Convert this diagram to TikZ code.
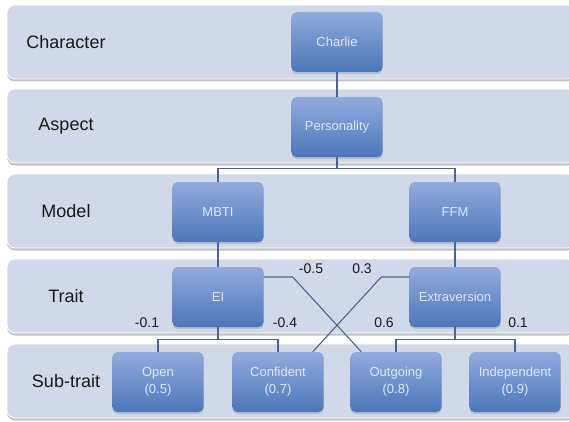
\documentclass[tikz,border=0pt]{standalone}
\usepackage{fontspec}
\setmainfont{Liberation Sans}
\usetikzlibrary{shadows}
\definecolor{bandfill}{RGB}{209,217,232}
\definecolor{bandshadow}{RGB}{150,152,158}
\definecolor{boxtop}{RGB}{146,171,221}
\definecolor{boxbot}{RGB}{76,118,186}
\definecolor{boxtext}{RGB}{222,230,245}
\definecolor{conncol}{RGB}{72,100,145}
\definecolor{labcol}{RGB}{25,25,25}
\tikzset{
  band/.style={rounded corners=8pt, minimum width=568pt, minimum height=74pt, fill=bandfill,
    draw=white, line width=0.8pt, inner sep=0pt,
    drop shadow={shadow xshift=0pt, shadow yshift=-2.5pt, opacity=0.6, fill=bandshadow}},
  rowlab/.style={font=\fontsize{18}{20}\selectfont, text=labcol},
  box/.style={rounded corners=5pt, minimum width=91pt, minimum height=60pt, inner sep=2pt,
    top color=boxtop, bottom color=boxbot, text=boxtext, align=center,
    font=\fontsize{13}{17}\selectfont,
    drop shadow={shadow xshift=0pt, shadow yshift=-2pt, opacity=0.3}},
  conn/.style={draw=conncol, line width=1.1pt},
  wlab/.style={font=\fontsize{14}{16}\selectfont, text=labcol, inner sep=0pt}
}
\begin{document}
\begin{tikzpicture}[x=1pt,y=-1pt]
\useasboundingbox (0,0) rectangle (569,422);
\fill[white] (0,0) rectangle (569,422);
\clip (0,0) rectangle (569,422);
% bands
\node[band] (b1) at (291,42) {};
\node[band] (b2) at (291,126) {};
\node[band] (b3) at (291,211) {};
\node[band] (b4) at (291,296) {};
\node[band] (b5) at (291,381) {};
% row labels
\node[rowlab] (l1) at (66,42) {Character};
\node[rowlab] (l2) at (66,126) {Aspect};
\node[rowlab] (l3) at (66,211) {Model};
\node[rowlab] (l4) at (66,296) {Trait};
\node[rowlab] (l5) at (66,381) {Sub-trait};
% boxes
\node[box] (Charlie) at (337,42) {Charlie};
\node[box] (Personality) at (337,127) {Personality};
\node[box] (MBTI) at (218,212) {MBTI};
\node[box] (FFM) at (455,212) {FFM};
\node[box] (EI) at (218,297) {EI};
\node[box] (Extraversion) at (455,297) {Extraversion};
\node[box] (Open) at (158,382) {Open\\(0.5)};
\node[box] (Confident) at (278,382) {Confident\\(0.7)};
\node[box] (Outgoing) at (396,382) {Outgoing\\(0.8)};
\node[box] (Independent) at (515,382) {Independent\\(0.9)};
% connectors
\draw[conn] (Charlie) -- (Personality);
\draw[conn] (Personality.south) -- ++(0,11) coordinate (pj);
\draw[conn] (MBTI.north) |- (pj) -| (FFM.north);
\draw[conn] (MBTI) -- (EI);
\draw[conn] (FFM) -- (Extraversion);
\draw[conn] (EI.south) -- ++(0,12) coordinate (ej);
\draw[conn] (Open.north) |- (ej) -| (Confident.north);
\draw[conn] (Extraversion.south) -- ++(0,12) coordinate (xj);
\draw[conn] (Outgoing.north) |- (xj) -| (Independent.north);
\draw[conn] ([yshift=20pt]EI.east) -- ++(29,0) -- ([xshift=11pt]Outgoing.north west);
\draw[conn] ([yshift=20pt]Extraversion.west) -- ++(-28,0) -- ([xshift=-11pt]Confident.north east);
% weights
\node[wlab] (w1) at (311,269) {-0.5};
\node[wlab] (w2) at (362,269) {0.3};
\node[wlab] (w3) at (147,323) {-0.1};
\node[wlab] (w4) at (285,323) {-0.4};
\node[wlab] (w5) at (384,323) {0.6};
\node[wlab] (w6) at (518,323) {0.1};
\end{tikzpicture}
\end{document}
